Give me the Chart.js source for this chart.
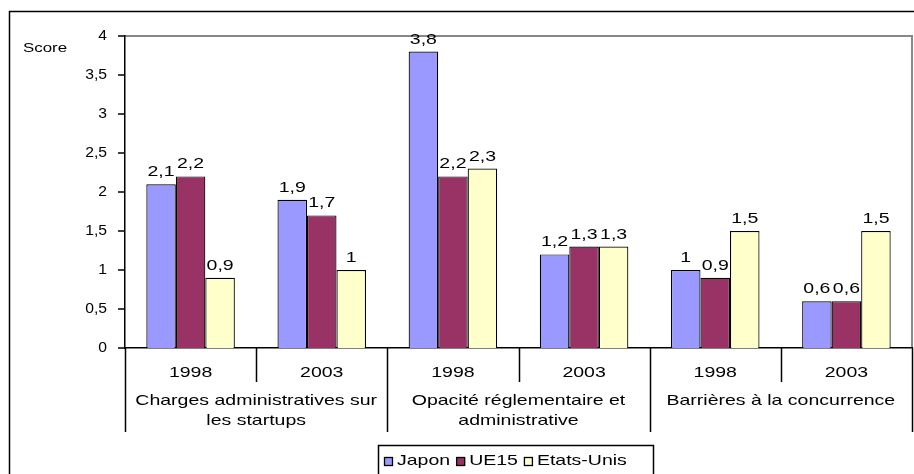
<!DOCTYPE html>
<html><head><meta charset="utf-8">
<script src="https://cdn.jsdelivr.net/npm/chart.js@4/dist/chart.umd.min.js"></script>
<style>html,body{margin:0;padding:0;background:#fff}canvas{display:block}</style>
</head><body>
<canvas id="c" width="914" height="474"></canvas>
<script>
const years = ['1998','2003','1998','2003','1998','2003'];
const groups = [['Charges administratives sur','les startups'],['Opacité réglementaire et','administrative'],['Barrières à la concurrence']];
const seriesNames = ['Japon','UE15','Etats-Unis'];
const japon = [2.1, 1.9, 3.8, 1.2, 1.0, 0.6];
const ue15 = [2.2, 1.7, 2.2, 1.3, 0.9, 0.6];
const etatsUnis = [0.9, 1.0, 2.3, 1.3, 1.5, 1.5];
const yTicks = [0, 0.5, 1, 1.5, 2, 2.5, 3, 3.5, 4];
const colors = ['#9999FF','#993366','#FFFFCC'];
const FONT = '"Liberation Sans", Arial, sans-serif';
const SX = 1.3;
const fmt = v => String(v).replace('.', ',');

function txt(ctx, t, x, y, size, sx, align, base){
  ctx.save();
  ctx.font = size + 'px ' + FONT;
  ctx.textAlign = align || 'center';
  ctx.textBaseline = base || 'middle';
  ctx.translate(x, y); ctx.scale(sx, 1);
  ctx.fillText(t, 0, 0);
  ctx.restore();
}

const decor = {
  id:'decor',
  beforeDraw(chart){
    const ctx = chart.ctx, a = chart.chartArea;
    ctx.save();
    ctx.fillStyle='#fff'; ctx.fillRect(0,0,chart.width,chart.height);
    ctx.strokeStyle='#000'; ctx.lineWidth=1.5;
    ctx.strokeRect(9.5,11.5,920,480);
    ctx.strokeStyle='#888'; ctx.lineWidth=2;
    ctx.beginPath(); ctx.moveTo(a.left,a.top); ctx.lineTo(a.right,a.top); ctx.lineTo(a.right,a.bottom); ctx.stroke();
    ctx.restore();
  },
  afterDraw(chart){
    const ctx = chart.ctx, a = chart.chartArea, xs = chart.scales.x, ys = chart.scales.y;
    ctx.save();
    ctx.fillStyle='#000';
    ctx.strokeStyle='#000'; ctx.lineWidth=1.5;
    const cw = (a.right - a.left)/years.length;
    ctx.beginPath();
    for(let i=0;i<=years.length;i++){
      const x = Math.round(a.left + i*cw);
      const bottom = (i%2===0) ? 432 : 382;
      ctx.moveTo(x+0.5,a.bottom); ctx.lineTo(x+0.5,bottom);
    }
    yTicks.forEach(v=>{ const y = Math.round(ys.getPixelForValue(v)); ctx.moveTo(a.left-7,y); ctx.lineTo(a.left,y); });
    ctx.stroke();
    yTicks.forEach(v=> txt(ctx, fmt(v), 107, ys.getPixelForValue(v), 14, 1.12, 'right'));
    years.forEach((y,i)=> txt(ctx, y, xs.getPixelForValue(i), 373, 15, SX));
    groups.forEach((g,gi)=>{
      const cx = a.left + (gi*2+1)*cw;
      g.forEach((line,li)=> txt(ctx, line, cx, 401 + li*20, 15, SX));
    });
    chart.data.datasets.forEach((ds,di)=>{
      const meta = chart.getDatasetMeta(di);
      meta.data.forEach((bar,i)=> txt(ctx, fmt(ds.data[i]), bar.x, bar.y-8, 15, SX, 'center', 'alphabetic'));
    });
    txt(ctx, 'Score', 23, 48, 13, SX, 'left');
    ctx.lineWidth=1.5; ctx.strokeStyle='#000';
    ctx.strokeRect(378.5,445.5,275,40);
    ctx.font='15px '+FONT;
    let x = 384;
    seriesNames.forEach((t,i)=>{
      ctx.fillStyle=colors[i]; ctx.fillRect(x,457,9,9);
      ctx.lineWidth=1.3; ctx.strokeRect(x+0.5,457.5,8,8);
      ctx.fillStyle='#000';
      txt(ctx, t, x+13, 461, 15, SX, 'left');
      x += 13 + ctx.measureText(t).width*SX + 6;
    });
    ctx.restore();
  }
};

new Chart(document.getElementById('c'),{
  type:'bar',
  data:{
    labels: years,
    datasets:[japon,ue15,etatsUnis].map((d,i)=>({
      label: seriesNames[i], data:d, backgroundColor:colors[i],
      borderColor:'#000', borderWidth:1.2, barPercentage:1, categoryPercentage:0.675
    }))
  },
  options:{
    responsive:false, animation:false, devicePixelRatio:1,
    layout:{padding:{left:0,right:2,top:36,bottom:0}},
    plugins:{legend:{display:false},tooltip:{enabled:false}},
    scales:{
      x:{
        ticks:{display:false},
        grid:{display:false},
        border:{color:'#000',width:1.5},
        afterFit:s=>{s.height=126;}
      },
      y:{
        min:0,max:4,
        ticks:{display:false,stepSize:0.5},
        grid:{display:false},
        border:{color:'#000',width:1.5},
        afterFit:s=>{s.width=125;}
      }
    }
  },
  plugins:[decor]
});
</script>
</body></html>
